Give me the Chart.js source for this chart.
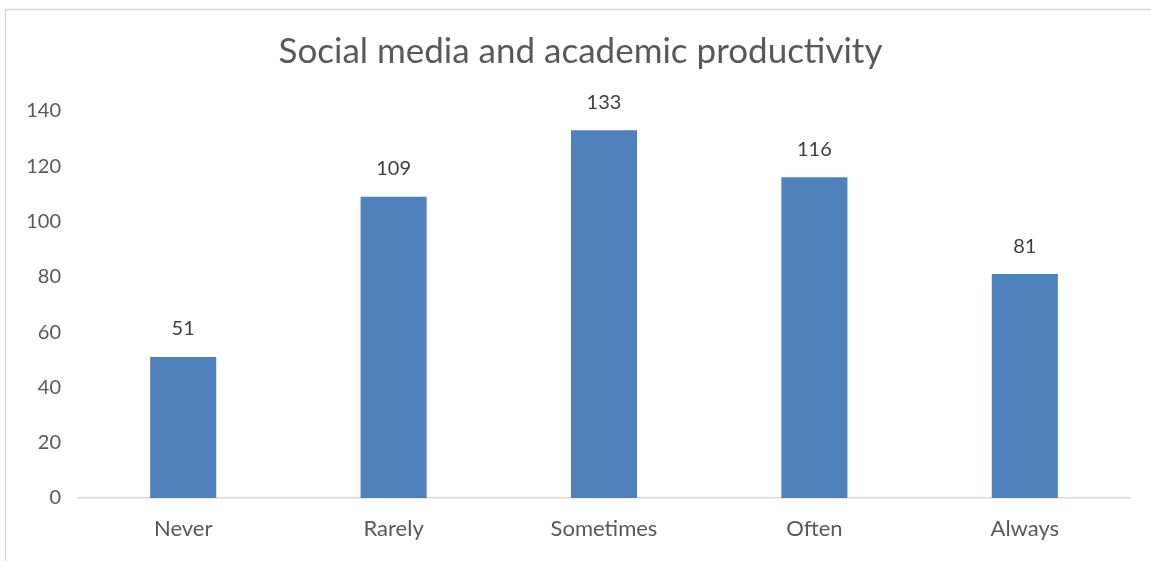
<!DOCTYPE html>
<html>
<head>
<meta charset="utf-8">
<script src="https://cdn.jsdelivr.net/npm/chart.js@4"></script>
<style>
  html, body { margin: 0; padding: 0; background: #fff; }
  #wrap { width: 1151px; height: 561px; position: relative; }
</style>
</head>
<body>
<div id="wrap"><canvas id="myChart" width="1151" height="561"></canvas></div>
<script>
var labels = ['Never', 'Rarely', 'Sometimes', 'Often', 'Always'];
var counts = [51, 109, 133, 116, 81];
var yTicks = [0, 20, 40, 60, 80, 100, 120, 140];

var textColor = '#595959';
var fontName = 'Lato, "Open Sans", sans-serif';

// frame round the chart + value labels on top of bars
var frame = {
	id: 'frame',
	afterLayout: function (chart) {
		// title in the original sits a bit right of the canvas centre
		if (chart.titleBlock) {
			chart.titleBlock.left += 13;
			chart.titleBlock.right += 13;
		}
	},
	beforeDraw: function (chart) {
		var ctx = chart.ctx;
		ctx.save();
		ctx.strokeStyle = '#d9d9d9';
		ctx.lineWidth = 1.5;
		ctx.strokeRect(5.5, 9.5, 1300, 700);
		ctx.restore();
	}
};
var valueLabels = {
	id: 'valueLabels',
	afterDatasetsDraw: function (chart) {
		var ctx = chart.ctx;
		var meta = chart.getDatasetMeta(0);
		ctx.save();
		ctx.fillStyle = '#404040';
		ctx.font = '20px ' + fontName;
		ctx.textAlign = 'center';
		ctx.textBaseline = 'middle';
		meta.data.forEach(function (bar, i) {
			ctx.fillText(chart.data.datasets[0].data[i], bar.x, bar.y - 28);
		});
		ctx.restore();
	}
};

var ctx = document.getElementById('myChart').getContext('2d');
var myChart = new Chart(ctx, {
	type: 'bar',
	data: {
		labels: labels,
		datasets: [{
			label: 'Count',
			backgroundColor: '#4F81BD',
			data: counts,
			categoryPercentage: 1,
			barPercentage: 0.314
		}]
	},
	options: {
		responsive: false,
		animation: false,
		layout: { padding: { left: 5, right: 21, top: 0, bottom: 0 } },
		plugins: {
			legend: { display: false },
			tooltip: { enabled: false },
			title: {
				display: true,
				text: 'Social media and academic productivity',
				color: textColor,
				font: { family: fontName, size: 35, weight: 'normal' },
				padding: { top: 31, bottom: 38 }
			}
		},
		scales: {
			x: {
				grid: { display: false, drawTicks: false },
				border: { display: true, color: '#d9d9d9', width: 1.5 },
				ticks: { color: textColor, font: { family: fontName, size: 22 }, padding: 18 },
				afterFit: function (scale) { scale.height = 63; }
			},
			y: {
				min: 0,
				max: 140,
				grid: { display: false, drawTicks: false },
				border: { display: false },
				afterBuildTicks: function (scale) {
					scale.ticks = yTicks.map(function (v) { return { value: v }; });
				},
				ticks: { color: textColor, font: { family: fontName, size: 20 }, padding: 17 },
				afterFit: function (scale) { scale.width = 73; }
			}
		}
	},
	plugins: [frame, valueLabels]
});
</script>
</body>
</html>
